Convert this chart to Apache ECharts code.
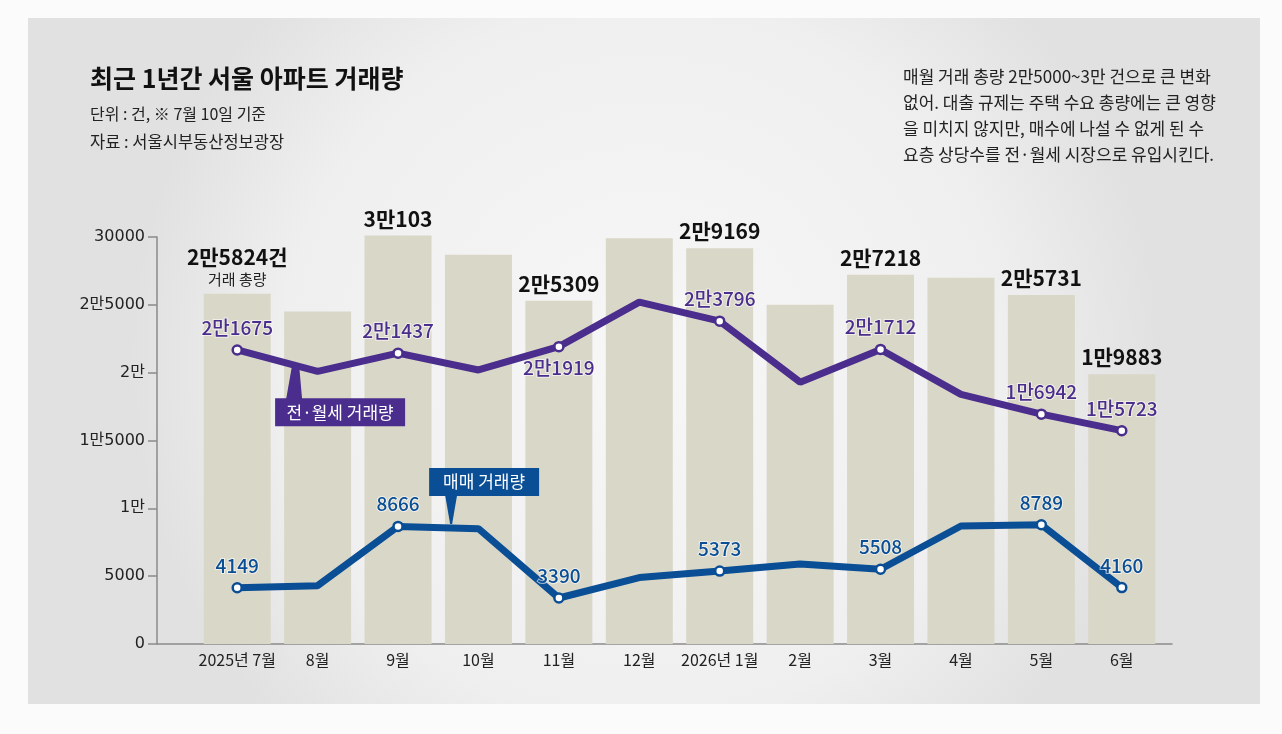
<!DOCTYPE html>
<html><head><meta charset="utf-8">
<script src="https://cdn.jsdelivr.net/npm/echarts@6/dist/echarts.min.js"></script>
<style>html,body{margin:0;padding:0;background:#fbfbfb;}#c{width:1282px;height:734px;}</style>
</head><body><div id="c"></div>
<script>
const categories = ['2025년 7월','8월','9월','10월','11월','12월','2026년 1월','2월','3월','4월','5월','6월'];
const totalVolume = [25824,24500,30103,28700,25309,29900,29169,25000,27218,27000,25731,19883];
const rentVolume = [21675,20100,21437,20200,21919,25200,23796,19300,21712,18400,16942,15723];
const saleVolume = [4149,4300,8666,8500,3390,4900,5373,5900,5508,8700,8789,4160];
const labeledIdx = [0,2,4,6,8,10,11];
const rentBelowIdx = [4];
const yTickLabels = ['0','5000','1만','1만5000','2만','2만5000','30000'];
const titleText = '최근 1년간 서울 아파트 거래량';
const unitText = '단위 : 건, ※ 7월 10일 기준';
const sourceText = '자료 : 서울시부동산정보광장';
const noteLines = ['매월 거래 총량 2만5000~3만 건으로 큰 변화','없어. 대출 규제는 주택 수요 총량에는 큰 영향','을 미치지 않지만, 매수에 나설 수 없게 된 수','요층 상당수를 전·월세 시장으로 유입시킨다.'];
const rentName = '전·월세 거래량';
const saleName = '매매 거래량';
const totalName = '거래 총량';

const FONT = '"Noto Sans CJK KR", "Noto Sans", sans-serif';
const NUMFONT = '"DejaVu Sans", "Noto Sans CJK KR", sans-serif';
const PURPLE = '#4a2d8c';
const BLUE = '#0a4e96';
const BAR = '#d9d7c7';

function toMan(n){
  if (n < 10000) return String(n);
  const m = Math.floor(n/10000), r = n % 10000;
  return m + '만' + (r ? r : '');
}

const chart = echarts.init(document.getElementById('c'), null, {renderer:'canvas'});

function lineData(vals, belowIdx){
  return vals.map((v,i)=>{
    const lab = labeledIdx.indexOf(i) >= 0;
    const below = belowIdx && belowIdx.indexOf(i) >= 0;
    return {
      value: v,
      symbol: lab ? 'circle' : 'none',
      symbolSize: 9,
      label: { show: lab, position: below ? 'bottom' : 'top', distance: below ? 6 : 7 }
    };
  });
}

const barData = totalVolume.map((v,i)=>{
  const lab = labeledIdx.indexOf(i) >= 0;
  return { value: v, label: { show: lab } };
});

const option = {
  animation: false,
  textStyle: { fontFamily: FONT },
  graphic: [
    { type:'rect', z:-10, shape:{x:28,y:18,width:1232,height:686},
      style:{ fill: new echarts.graphic.RadialGradient(0.5,0.5,0.75,[{offset:0,color:'#f7f7f7'},{offset:0.7,color:'#efefef'},{offset:1,color:'#e1e1e1'}]) } },
    { type:'text', left:90, top:66, style:{ text:titleText, font:'bold 25px '+FONT, fill:'#111' } },
    { type:'text', left:90, top:106, style:{ text:unitText, font:'16px '+FONT, fill:'#222' } },
    { type:'text', left:90, top:133, style:{ text:sourceText, font:'16.5px '+FONT, fill:'#222' } },
    { type:'text', left:903, top:64, style:{ text:noteLines.join('\n'), font:'17px '+FONT, lineHeight:26, fill:'#222' } }
  ],
  grid: [
    { left:197, right:120, top:237, bottom:90 },
    { left:157, right:110, top:237, bottom:90 }
  ],
  xAxis: [
    { type:'category', gridIndex:0, data:categories, boundaryGap:true,
      axisLine:{show:false}, axisTick:{show:false},
      axisLabel:{ color:'#222', fontSize:16, margin:8, interval:0, fontFamily:FONT } },
    { type:'value', gridIndex:1, min:0, max:1,
      axisLine:{ show:true, onZero:false, lineStyle:{ color:'#8a8a8a', width:1.5 } },
      axisTick:{show:false}, axisLabel:{show:false}, splitLine:{show:false} }
  ],
  yAxis: [
    { type:'value', gridIndex:0, min:0, max:30000, interval:5000, show:false, splitLine:{show:false} },
    { type:'value', gridIndex:1, min:0, max:30000, interval:5000,
      axisLine:{ show:true, lineStyle:{ color:'#8a8a8a', width:1.5 } },
      axisTick:{ show:true, length:9, lineStyle:{ color:'#8a8a8a', width:1.5 } },
      splitLine:{show:false},
      axisLabel:{ color:'#222', fontSize:16, margin:12, fontFamily:NUMFONT,
        formatter:(v)=> yTickLabels[Math.round(v/5000)] } }
  ],
  series: [
    { name: totalName, type:'bar', xAxisIndex:0, yAxisIndex:0, barWidth:67, clip:false,
      itemStyle:{ color:BAR }, z:1,
      data: barData,
      label: { position:'top', distance:4, color:'#111', fontFamily:FONT,
        formatter:(p)=> p.dataIndex === 0 ? '{b|'+toMan(p.value)+'건}\n{s|'+totalName+'}' : '{b|'+toMan(p.value)+'}',
        rich:{ b:{ fontSize:21, fontWeight:'bold', color:'#111', fontFamily:FONT, lineHeight:26, letterSpacing:-1.2 },
               s:{ fontSize:15, color:'#222', fontFamily:FONT, lineHeight:20 } } } },
    { name: rentName, type:'line', xAxisIndex:0, yAxisIndex:0, z:3,
      lineStyle:{ color:PURPLE, width:7 }, itemStyle:{ color:'#fff', borderColor:PURPLE, borderWidth:2.5 },
      data: lineData(rentVolume, rentBelowIdx),
      label:{ color:PURPLE, fontSize:19, fontWeight:500, fontFamily:FONT, letterSpacing:-1, textBorderColor:'rgba(255,255,255,0.6)', textBorderWidth:2,
        formatter:(p)=> toMan(p.value) } },
    { name: saleName, type:'line', xAxisIndex:0, yAxisIndex:0, z:3,
      lineStyle:{ color:BLUE, width:7 }, itemStyle:{ color:'#fff', borderColor:BLUE, borderWidth:2.5 },
      data: lineData(saleVolume),
      label:{ color:BLUE, fontSize:19, fontWeight:500, fontFamily:FONT, letterSpacing:-1, textBorderColor:'rgba(255,255,255,0.6)', textBorderWidth:2,
        formatter:(p)=> toMan(p.value) } }
  ]
};
chart.setOption(option);

function interp(series, i, f){
  const a = chart.convertToPixel({gridIndex:0}, [i, series[i]]);
  const b = chart.convertToPixel({gridIndex:0}, [i+1, series[i+1]]);
  return [a[0]+(b[0]-a[0])*f, a[1]+(b[1]-a[1])*f];
}
const rp = interp(rentVolume, 0, 0.72);
const sp = interp(saleVolume, 2, 0.66);
const rBox = { x: rp[0]-20, y: rp[1]+33, w:130, h:28 };
const sBox = { x: sp[0]-22, y: sp[1]-60, w:110, h:28 };
chart.setOption({ graphic: option.graphic.concat([
  { type:'polygon', z:10, shape:{ points:[[rp[0]-3,rp[1]],[rp[0]+4,rp[1]],[rp[0]+7,rBox.y+1],[rp[0]-9,rBox.y+1]] }, style:{ fill:PURPLE } },
  { type:'rect', z:10, shape:{ x:rBox.x, y:rBox.y, width:rBox.w, height:rBox.h }, style:{ fill:PURPLE } },
  { type:'text', z:11, x:rBox.x+rBox.w/2, y:rBox.y+rBox.h/2, style:{ text:rentName, font:'17px '+FONT, fill:'#fff', align:'center', verticalAlign:'middle' } },
  { type:'polygon', z:10, shape:{ points:[[sp[0]-6,sBox.y+sBox.h-1],[sp[0]+6,sBox.y+sBox.h-1],[sp[0]+1,sp[1]-4],[sp[0]-1,sp[1]-4]] }, style:{ fill:BLUE } },
  { type:'rect', z:10, shape:{ x:sBox.x, y:sBox.y, width:sBox.w, height:sBox.h }, style:{ fill:BLUE } },
  { type:'text', z:11, x:sBox.x+sBox.w/2, y:sBox.y+sBox.h/2, style:{ text:saleName, font:'17px '+FONT, fill:'#fff', align:'center', verticalAlign:'middle' } }
]) });
</script></body></html>
